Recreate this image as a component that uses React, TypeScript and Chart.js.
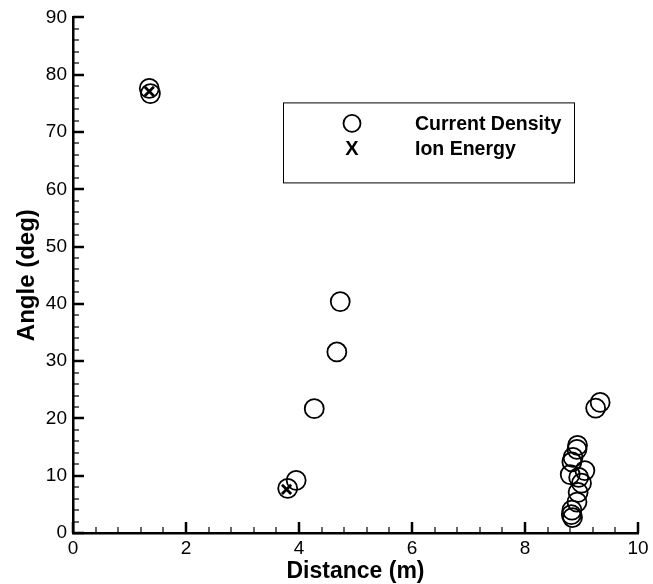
import React, { useEffect, useRef } from "react";
import { Chart, registerables } from "chart.js";

Chart.register(...registerables);

// Current density measurements: distance (m) and angle (deg)
const densityDistance = [1.35, 1.37, 4.73, 4.67, 4.27, 3.95, 3.8, 8.93, 8.92, 8.85, 8.83, 9.06, 8.8, 8.95, 9.0, 8.94, 8.92, 8.83, 8.82, 8.84, 9.25, 9.33];
const densityAngle = [77.6, 76.7, 40.4, 31.6, 21.7, 9.2, 7.8, 15.3, 14.6, 13.2, 12.4, 10.9, 10.2, 9.7, 8.7, 7.1, 5.4, 4.0, 3.2, 2.7, 21.8, 22.8];

// Ion energy measurements
const energyDistance = [1.35, 3.78];
const energyAngle = [77.1, 7.6];

const xMin = 0;
const xMax = 10;
const xMajorStep = 2;
const xMinorStep = 0.4;
const yMin = 0;
const yMax = 90;
const yMajorStep = 10;
const yMinorStep = 2;

const legendLabels = ["Current Density", "Ion Energy"];

const FONT = "'Liberation Sans', Arial, Helvetica, sans-serif";

const toPoints = (xs: number[], ys: number[]) => xs.map((x, i) => ({ x, y: ys[i] }));

// Inward-facing major and minor tick marks on the left and bottom axes
const tickMarks = {
  id: "tickMarks",
  afterDraw(chart: any) {
    const { ctx, chartArea, scales } = chart;
    const xs = scales.x;
    const ys = scales.y;
    ctx.save();
    ctx.strokeStyle = "#000";
    const eps = 1e-6;
    for (let v = xMin; v <= xMax + eps; v += xMinorStep) {
      const major = Math.abs(v / xMajorStep - Math.round(v / xMajorStep)) < 1e-3;
      const px = Math.round(xs.getPixelForValue(v));
      ctx.lineWidth = major ? 2.5 : 1.2;
      ctx.beginPath();
      ctx.moveTo(px, chartArea.bottom);
      ctx.lineTo(px, chartArea.bottom - (major ? 11 : 6));
      ctx.stroke();
    }
    for (let v = yMin; v <= yMax + eps; v += yMinorStep) {
      const major = Math.abs(v / yMajorStep - Math.round(v / yMajorStep)) < 1e-3;
      const py = Math.round(ys.getPixelForValue(v));
      ctx.lineWidth = major ? 2.5 : 1.2;
      ctx.beginPath();
      ctx.moveTo(chartArea.left, py);
      ctx.lineTo(chartArea.left + (major ? 11 : 6), py);
      ctx.stroke();
    }
    ctx.restore();
  },
};

// Boxed legend inside the plot area
const boxLegend = {
  id: "boxLegend",
  afterDraw(chart: any) {
    const { ctx, chartArea } = chart;
    const left = chartArea.left + 210;
    const top = chartArea.top + 85;
    const w = 291;
    const h = 80;
    ctx.save();
    ctx.strokeStyle = "#000";
    ctx.lineWidth = 1;
    ctx.strokeRect(left + 0.5, top + 0.5, w, h);

    const symX = left + 69;
    const row1 = top + 21;
    const row2 = top + 46;
    ctx.lineWidth = 1.8;
    ctx.beginPath();
    ctx.arc(symX, row1, 8.5, 0, Math.PI * 2);
    ctx.stroke();

    ctx.fillStyle = "#000";
    ctx.font = `bold 20px ${FONT}`;
    ctx.textBaseline = "middle";
    ctx.textAlign = "center";
    ctx.fillText("X", symX, row2 + 1);
    ctx.font = `bold 19.5px ${FONT}`;
    ctx.textAlign = "left";
    ctx.fillText(legendLabels[0], left + 132, row1 + 1);
    ctx.fillText(legendLabels[1], left + 132, row2 + 1);
    ctx.restore();
  },
};

export default function App() {
  const canvasRef = useRef<HTMLCanvasElement | null>(null);

  useEffect(() => {
    if (!canvasRef.current) return;
    const chart = new Chart(canvasRef.current, {
      type: "scatter",
      data: {
        datasets: [
          {
            label: legendLabels[0],
            data: toPoints(densityDistance, densityAngle),
            pointStyle: "circle",
            pointRadius: 9.5,
            pointBorderWidth: 1.8,
            borderColor: "#000",
            backgroundColor: "rgba(0,0,0,0)",
          },
          {
            label: legendLabels[1],
            data: toPoints(energyDistance, energyAngle),
            pointStyle: "crossRot",
            pointRadius: 6.5,
            pointBorderWidth: 2.8,
            borderColor: "#000",
            backgroundColor: "#000",
          },
        ],
      },
      options: {
        animation: false,
        responsive: true,
        maintainAspectRatio: false,
        layout: { padding: { top: 13, right: 15, left: 0, bottom: 0 } },
        plugins: {
          legend: { display: false },
          tooltip: { enabled: false },
        },
        scales: {
          x: {
            type: "linear",
            min: xMin,
            max: xMax,
            grid: { display: false, drawTicks: false },
            border: { display: true, color: "#000", width: 2.5 },
            ticks: {
              stepSize: xMajorStep,
              color: "#000",
              padding: 4,
              font: { family: FONT, size: 19 },
            },
            title: {
              display: true,
              text: "Distance (m)",
              color: "#000",
              font: { family: FONT, size: 23, weight: "bold" },
              padding: { top: 0, bottom: -1 },
            },
            afterFit: (scale: any) => {
              scale.height = 51;
            },
          },
          y: {
            type: "linear",
            min: yMin,
            max: yMax,
            grid: { display: false, drawTicks: false },
            border: { display: true, color: "#000", width: 2.5 },
            ticks: {
              stepSize: yMajorStep,
              color: "#000",
              padding: 6,
              font: { family: FONT, size: 19 },
            },
            title: {
              display: true,
              text: "Angle (deg)",
              color: "#000",
              font: { family: FONT, size: 24, weight: "bold" },
              padding: { top: 13, bottom: 0 },
            },
            afterFit: (scale: any) => {
              scale.width = 73;
            },
          },
        },
      },
      plugins: [tickMarks, boxLegend],
    });
    return () => chart.destroy();
  }, []);

  return (
    <div style={{ position: "absolute", left: 0, top: 0, width: 653, height: 584, background: "#fff" }}>
      <canvas ref={canvasRef} />
    </div>
  );
}
